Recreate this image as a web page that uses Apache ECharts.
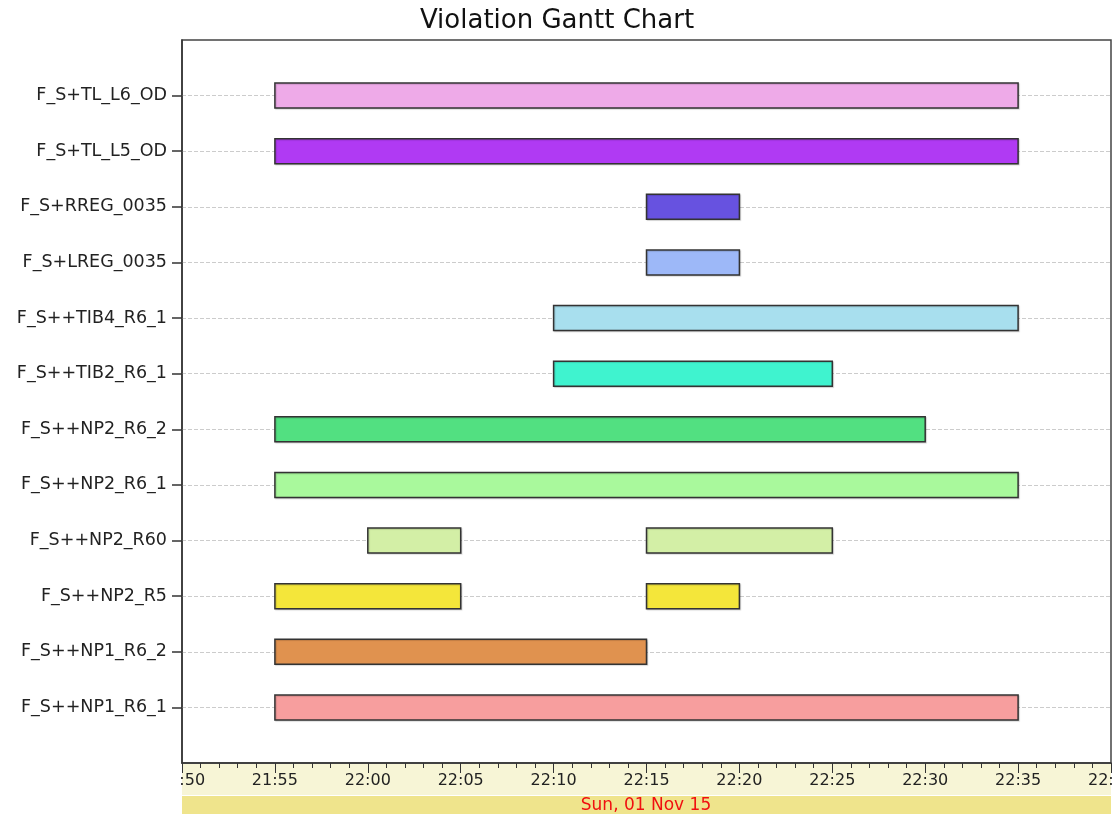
<!DOCTYPE html>
<html>
<head>
<meta charset="utf-8">
<title>Violation Gantt Chart</title>
<script src="https://cdn.jsdelivr.net/npm/echarts@6/dist/echarts.min.js"></script>
<style>
  html, body { margin: 0; padding: 0; background: #fff; }
  #chart { width: 1114px; height: 816px; }
</style>
</head>
<body>
<div id="chart"></div>
<script>
// rows, bottom to top
const categories = [
  'F_S++NP1_R6_1', 'F_S++NP1_R6_2', 'F_S++NP2_R5', 'F_S++NP2_R60',
  'F_S++NP2_R6_1', 'F_S++NP2_R6_2', 'F_S++TIB2_R6_1', 'F_S++TIB4_R6_1',
  'F_S+LREG_0035', 'F_S+RREG_0035', 'F_S+TL_L5_OD', 'F_S+TL_L6_OD'
];

// one entry per violation bar
const taskRow   = [0, 1, 2, 2, 3, 3, 4, 5, 6, 7, 8, 9, 10, 11];
const taskStart = ['21:55', '21:55', '21:55', '22:15', '22:00', '22:15', '21:55', '21:55', '22:10', '22:10', '22:15', '22:15', '21:55', '21:55'];
const taskEnd   = ['22:35', '22:15', '22:05', '22:20', '22:05', '22:25', '22:35', '22:30', '22:25', '22:35', '22:20', '22:20', '22:35', '22:35'];

const rowColors = [
  '#f79e9e', '#e0924f', '#f4e63a', '#d3efa6', '#a9f99c', '#52e081',
  '#3ff3cf', '#a8dfee', '#9db8f8', '#6752e0', '#b03af3', '#eeaae8'
];

const axisMin = '21:50';
const axisMax = '22:40';
const dateLabel = 'Sun, 01 Nov 15';

const toMin = s => { const p = s.split(':'); return (+p[0]) * 60 + (+p[1]); };
const fmt = v => {
  const h = Math.floor(v / 60) % 24, m = v % 60;
  return String(h).padStart(2, '0') + ':' + String(m).padStart(2, '0');
};

// category axis padded with an empty slot at each end
const yCats = [''].concat(categories, ['']);
const data = taskRow.map((r, i) => ({
  value: [r + 1, toMin(taskStart[i]), toMin(taskEnd[i])],
  itemStyle: { color: rowColors[r] }
}));

const chart = echarts.init(document.getElementById('chart'));
const font = '"DejaVu Sans", sans-serif';
const inner = (i) => i > 0 && i < yCats.length - 1;

chart.setOption({
  animation: false,
  textStyle: { fontFamily: font },
  title: {
    text: 'Violation Gantt Chart',
    left: 'center',
    top: 3,
    textStyle: { fontSize: 26, fontWeight: 'normal', color: '#111', fontFamily: font }
  },
  grid: {
    left: 182, top: 40, right: 3, bottom: 53,
    outerBoundsMode: 'none',
    containLabel: false,
    show: true, borderColor: '#444', borderWidth: 1.5
  },
  xAxis: {
    type: 'value',
    min: toMin(axisMin),
    max: toMin(axisMax),
    interval: 5,
    z: 10,
    axisLine: { show: true, lineStyle: { color: '#333', width: 1.5 } },
    axisTick: { show: true, length: 10, lineStyle: { color: '#333' } },
    minorTick: { show: true, splitNumber: 5, length: 5, lineStyle: { color: '#333' } },
    splitLine: { show: false },
    axisLabel: {
      formatter: v => fmt(v),
      color: '#222', fontSize: 16, margin: 10,
      showMinLabel: true, showMaxLabel: true
    }
  },
  yAxis: {
    type: 'category',
    data: yCats,
    boundaryGap: false,
    axisLine: { show: true, lineStyle: { color: '#333', width: 1.5 } },
    axisTick: { show: true, length: 10, interval: inner, lineStyle: { color: '#333', width: 1.5 } },
    splitLine: { show: true, interval: inner, lineStyle: { color: '#ccc', type: 'dashed' } },
    axisLabel: { color: '#222', fontSize: 17.5, margin: 15, interval: inner }
  },
  graphic: [
    { type: 'rect', z: 1, silent: true, shape: { x: 182, y: 764, width: 929, height: 31 }, style: { fill: '#f7f5d6' } },
    { type: 'rect', z: 1, silent: true, shape: { x: 182, y: 796, width: 929, height: 18 }, style: { fill: '#efe48c' } },
    { type: 'rect', z: 50, silent: true, shape: { x: 0, y: 765, width: 181, height: 30 }, style: { fill: '#fff' } },
    {
      type: 'text', z: 50, silent: true, x: 646, y: 806,
      style: { text: dateLabel, fill: '#f01010', font: '17px ' + font, textAlign: 'center', textVerticalAlign: 'middle' }
    }
  ],
  series: [{
    type: 'custom',
    encode: { x: [1, 2], y: 0 },
    data: data,
    renderItem: (params, api) => {
      const row = api.value(0);
      const a = api.coord([api.value(1), row]);
      const b = api.coord([api.value(2), row]);
      const h = 25;
      return {
        type: 'rect',
        shape: { x: a[0], y: a[1] - h / 2, width: b[0] - a[0], height: h },
        style: {
          fill: api.visual('color'),
          stroke: '#333',
          lineWidth: 1.5,
          shadowBlur: 1,
          shadowColor: 'rgba(0,0,0,0.15)',
          shadowOffsetX: 1,
          shadowOffsetY: 1
        }
      };
    }
  }]
});
</script>
</body>
</html>
